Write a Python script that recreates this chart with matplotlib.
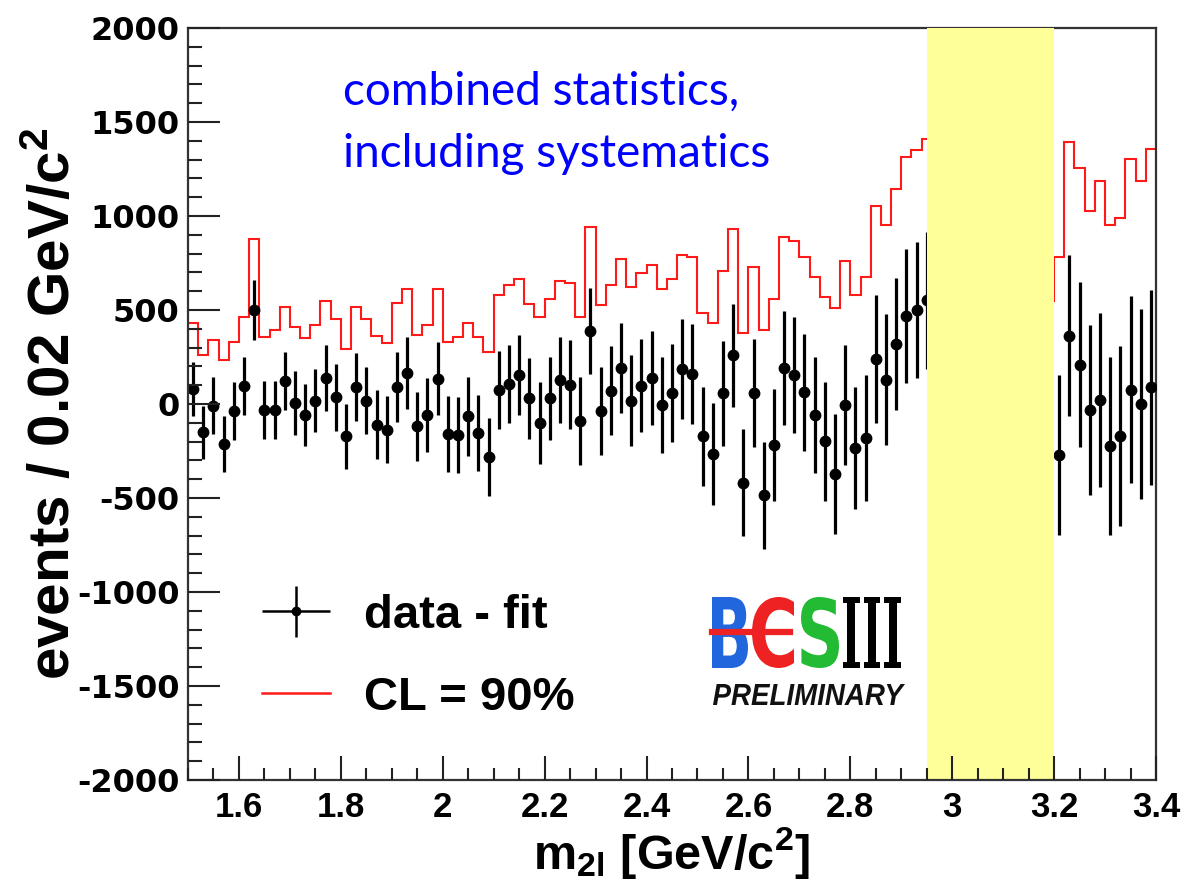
import numpy as np
import matplotlib
matplotlib.use("Agg")
import matplotlib.pyplot as plt
from matplotlib.lines import Line2D
from matplotlib.legend_handler import HandlerErrorbar
from matplotlib.textpath import TextPath
from matplotlib.patches import PathPatch
from matplotlib.font_manager import FontProperties
from matplotlib.transforms import Affine2D

plt.rcParams["mathtext.default"] = "regular"
plt.rcParams["axes.unicode_minus"] = False

# binning: 0.02 GeV bins from 1.50 to 3.40
bin_lo = 1.50
bin_w = 0.02
n_bins = 95
edges = bin_lo + bin_w * np.arange(n_bins + 1)
centers = 0.5 * (edges[:-1] + edges[1:])

nan = np.nan
# data - fit (events / bin), hidden under the J/psi veto band -> nan
data_fit = [80, -151, -9, -213, -37, 94, 498, -30, -30, 124,
            5, -57, 18, 137, 36, -172, 89, 18, -110, -137,
            89, 165, -119, -59, 135, -160, -165, -66, -156, -284,
            76, 107, 155, 30, -101, 30, 128, 103, -92, 388,
            -39, 71, 192, 18, 98, 137, -4, 58, 187, 160,
            -172, -267, 57, 258, -418, 57, -485, -219, 192, 155,
            62, -59, -199, -373, -5, -236, -183, 240, 130, 320,
            467, 498, 551, nan, nan, nan, nan, nan, nan, nan,
            nan, nan, nan, nan, nan, -272, 364, 210, -32, 21,
            -222, -169, 76, 0, 89]
data_err = [144, 142, 151, 151, 155, 154, 160, 155, 155, 155,
            169, 166, 169, 175, 178, 172, 180, 178, 185, 178,
            185, 190, 185, 196, 196, 200, 200, 209, 202, 207,
            207, 209, 213, 216, 220, 222, 227, 235, 235, 231,
            234, 235, 238, 241, 249, 250, 255, 262, 265, 267,
            264, 272, 278, 276, 283, 287, 284, 298, 303, 310,
            313, 308, 318, 319, 320, 324, 335, 342, 348, 351,
            357, 362, 365, nan, nan, nan, nan, nan, nan, nan,
            nan, nan, nan, nan, nan, 424, 430, 438, 453, 462,
            473, 480, 497, 505, 518]
# 90% CL upper limit
cl90 = [432, 261, 343, 235, 332, 462, 876, 356, 396, 516,
        409, 350, 421, 546, 450, 290, 516, 453, 361, 325,
        539, 613, 368, 420, 613, 332, 356, 430, 356, 279,
        578, 631, 663, 533, 462, 556, 654, 643, 462, 939,
        524, 631, 770, 622, 699, 738, 612, 667, 791, 782,
        484, 432, 706, 930, 377, 729, 396, 556, 889, 868,
        782, 676, 569, 512, 761, 578, 676, 1054, 951, 1145,
        1316, 1350, 1410, nan, nan, nan, nan, nan, nan, nan,
        nan, nan, nan, nan, 548, 782, 1392, 1253, 1028, 1186,
        951, 987, 1303, 1188, 1356]
veto = (2.95, 3.20)

W, H = 1190, 884
fig = plt.figure(figsize=(W / 100, H / 100), dpi=100)
ax = fig.add_axes([188 / W, 1 - 780 / H, (1156 - 188) / W, (780 - 28) / H])

ax.stairs(cl90, edges, color="#ff1a1a", lw=1.5, baseline=None, zorder=2)
ax.errorbar(centers, data_fit, yerr=data_err, fmt="o", color="black",
            ms=7.5, elinewidth=2.3, capsize=0, zorder=3)
ax.axvspan(veto[0], veto[1], color="#ffff99", lw=0, zorder=4)

ax.set_xlim(1.5, 3.4)
ax.set_ylim(-2000, 2000)
ax.set_xticks(np.arange(1.6, 3.41, 0.2))
ax.set_xticklabels(["1.6", "1.8", "2", "2.2", "2.4", "2.6", "2.8", "3", "3.2", "3.4"])
ax.set_xticks(np.arange(1.5, 3.401, 0.05), minor=True)
ax.set_yticks(np.arange(-2000, 2001, 500))
ax.set_yticks(np.arange(-2000, 2001, 100), minor=True)

ax.tick_params(axis="both", which="both", direction="in", width=1.5, color="#222222")
ax.tick_params(axis="y", which="major", length=23, pad=6)
ax.tick_params(axis="y", which="minor", length=10)
ax.tick_params(axis="x", which="major", length=17, pad=8)
ax.tick_params(axis="x", which="minor", length=9)
for lab in ax.get_yticklabels():
    lab.set_fontfamily("DejaVu Sans")
    lab.set_fontweight("bold")
    lab.set_fontsize(23)
for lab in ax.get_xticklabels():
    lab.set_fontfamily("Liberation Sans")
    lab.set_fontweight("bold")
    lab.set_fontsize(25)

for side in ["left", "bottom", "right", "top"]:
    ax.spines[side].set_linewidth(1.6)
    ax.spines[side].set_color("#333333")
ax.spines["left"].set_zorder(6)
ax.spines["bottom"].set_zorder(6)
ax.spines["top"].set_zorder(3)
ax.xaxis.set_zorder(6)
ax.yaxis.set_zorder(6)

ax.set_xlabel(r"m$_{2l}$ [GeV/c$^{2}$]", fontsize=35, fontweight="bold",
              family="Liberation Sans", va="baseline")
ax.xaxis.set_label_coords(0.5, (780 - 869) / 752)
ax.set_ylabel(r"events / 0.02 GeV/c$^{2}$", fontsize=42, fontweight="bold",
              family="Liberation Sans", va="baseline")
ax.yaxis.set_label_coords((70 - 188) / 968, 0.5)

ax.text(0.160, 0.943, "combined statistics,\nincluding systematics", transform=ax.transAxes,
        color="#0000ff", fontsize=33, family="Lato", va="top", ha="left",
        linespacing=1.6, zorder=7)

# legend
h_data = ax.errorbar([], [], xerr=[], yerr=[], fmt="o", color="black", ms=6,
                     elinewidth=1.8, capsize=0, label="data - fit")
h_cl = Line2D([], [], color="#ff1a1a", lw=1.8, label="CL = 90%")
leg = ax.legend(handles=[h_data, h_cl], loc="upper left",
                bbox_to_anchor=((262 - 188) / 968, (780 - 594) / 752),
                frameon=False, borderpad=0, borderaxespad=0,
                handlelength=1.45, handletextpad=0.7, labelspacing=0.8,
                prop=FontProperties(family="Liberation Sans", weight="bold", size=34),
                handler_map={type(h_data): HandlerErrorbar(xerr_size=0.72, yerr_size=0.55)})
leg.set_zorder(7)


# BESIII PRELIMINARY logo
def glyph(s, x0, y_top, w, h, color, fp):
    tp = TextPath((0, 0), s, size=100, prop=fp)
    bb = tp.get_extents()
    tr = (Affine2D().translate(-bb.x0, -bb.y0)
          .scale(w / bb.width, h / bb.height)
          .translate(x0, H - y_top - h)
          .scale(1 / W, 1 / H))
    fig.add_artist(PathPatch(tr.transform_path(tp), color=color, lw=0,
                             transform=fig.transFigure, zorder=8))


sans_b = FontProperties(family="DejaVu Sans", weight="bold")
serif_b = FontProperties(family="DejaVu Serif", weight="bold")
glyph("B", 712, 597, 36, 71, "#2266dd", sans_b)
glyph("C", 752, 597, 42, 71, "#ee2222", sans_b)
glyph("S", 801, 597, 38, 71, "#22bb33", sans_b)
glyph("III", 843, 597, 58, 71, "black", serif_b)
fig.add_artist(Line2D([712 / W, 790 / W], [1 - 632 / H, 1 - 632 / H],
                      color="#ee2222", lw=4.5, transform=fig.transFigure, zorder=9))
glyph("PRELIMINARY", 713, 684, 192, 21, "#111111",
      FontProperties(family="Liberation Sans", weight="bold", style="italic"))

fig.savefig("out.png", dpi=100)
